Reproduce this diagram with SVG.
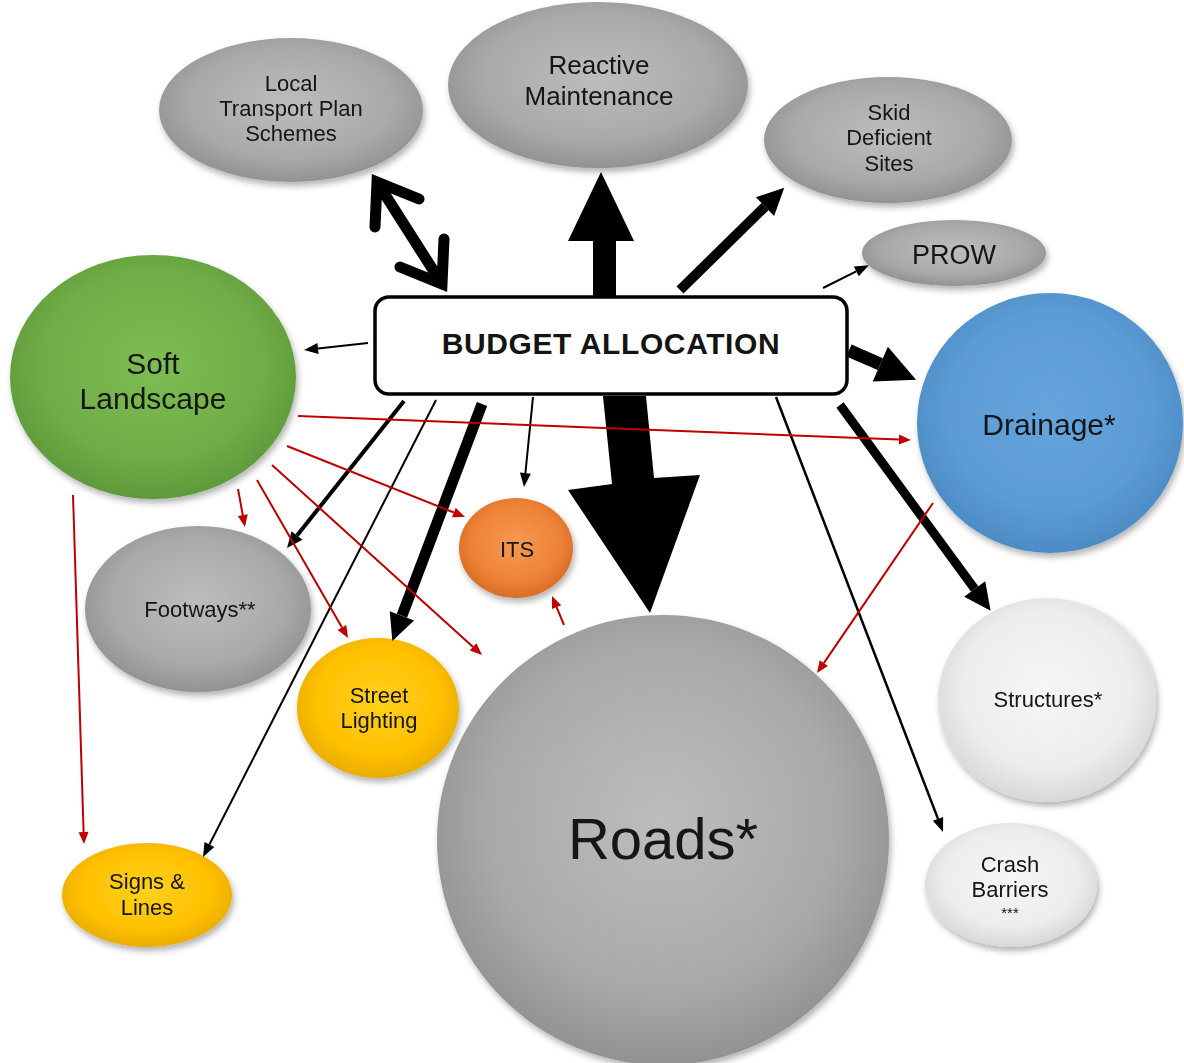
<svg xmlns="http://www.w3.org/2000/svg" width="1184" height="1063" viewBox="0 0 1184 1063">
<style>
.t{font-family:"Liberation Sans",Arial,sans-serif;fill:#141414;text-anchor:middle}
.node{filter:url(#sh)}
.k{fill:none;stroke:#000}
.r{fill:none;stroke:#c00000;stroke-width:2;marker-end:url(#ar)}
</style>
<defs>
<filter id="sh" x="-10%" y="-10%" width="125%" height="130%">
<feDropShadow dx="2" dy="4" stdDeviation="3" flood-color="#000" flood-opacity="0.3"/>
</filter>
<radialGradient id="gGray" cx="50%" cy="45%" r="55%"><stop offset="0" stop-color="#bdbdbd"/><stop offset="0.7" stop-color="#a9a9a9"/><stop offset="1" stop-color="#929292"/></radialGradient>
<radialGradient id="gGreen" cx="50%" cy="45%" r="55%"><stop offset="0" stop-color="#7dbd53"/><stop offset="0.7" stop-color="#70ad47"/><stop offset="1" stop-color="#5e9a3b"/></radialGradient>
<radialGradient id="gBlue" cx="50%" cy="45%" r="55%"><stop offset="0" stop-color="#66a4dc"/><stop offset="0.7" stop-color="#5b9bd5"/><stop offset="1" stop-color="#4c8bc3"/></radialGradient>
<radialGradient id="gOrange" cx="50%" cy="45%" r="55%"><stop offset="0" stop-color="#f49a52"/><stop offset="0.7" stop-color="#ee8236"/><stop offset="1" stop-color="#d86d27"/></radialGradient>
<radialGradient id="gYellow" cx="50%" cy="45%" r="55%"><stop offset="0" stop-color="#ffd11c"/><stop offset="0.7" stop-color="#ffc000"/><stop offset="1" stop-color="#e9ad00"/></radialGradient>
<radialGradient id="gWhite" cx="50%" cy="45%" r="55%"><stop offset="0" stop-color="#f6f6f6"/><stop offset="0.7" stop-color="#ededed"/><stop offset="1" stop-color="#d8d8d8"/></radialGradient>
<marker id="ar" markerUnits="userSpaceOnUse" orient="auto" overflow="visible" refX="0" refY="0"><path d="M0,-5 L12,0 L0,5 z" fill="#c00000"/></marker>
<marker id="ab" markerUnits="userSpaceOnUse" orient="auto" overflow="visible" refX="0" refY="0"><path d="M0,-5.5 L14,0 L0,5.5 z" fill="#000"/></marker>
<marker id="am" markerUnits="userSpaceOnUse" orient="auto" overflow="visible" refX="0" refY="0"><path d="M0,-7 L16,0 L0,7 z" fill="#000"/></marker>
<marker id="at" markerUnits="userSpaceOnUse" orient="auto" overflow="visible" refX="0" refY="0"><path d="M0,-13 L27,0 L0,13 z" fill="#000"/></marker>
<marker id="ad" markerUnits="userSpaceOnUse" orient="auto" overflow="visible" refX="0" refY="0"><path d="M0,-19 L39,0 L0,19 z" fill="#000"/></marker>
</defs>
<rect width="1184" height="1063" fill="#fff"/>

<g id="ltp" class="node"><ellipse cx="291" cy="110" rx="132" ry="72" fill="url(#gGray)"/>
<text class="t" font-size="22" x="291" y="91">Local</text><text class="t" font-size="22" x="291" y="116">Transport Plan</text><text class="t" font-size="22" x="291" y="141">Schemes</text></g>

<g id="reactive" class="node"><ellipse cx="598" cy="85" rx="150" ry="83" fill="url(#gGray)"/>
<text class="t" font-size="26" x="599" y="74">Reactive</text><text class="t" font-size="26" x="599" y="105">Maintenance</text></g>

<g id="skid" class="node"><ellipse cx="888" cy="140" rx="124" ry="63" fill="url(#gGray)"/>
<text class="t" font-size="22" x="889" y="120">Skid</text><text class="t" font-size="22" x="889" y="145">Deficient</text><text class="t" font-size="22" x="889" y="171">Sites</text></g>

<g id="prow" class="node"><ellipse cx="954" cy="253" rx="92" ry="33" fill="url(#gGray)"/>
<text class="t" font-size="27" x="954" y="264">PROW</text></g>

<g id="soft" class="node"><ellipse cx="153" cy="377" rx="143" ry="122" fill="url(#gGreen)"/>
<text class="t" font-size="30" x="153" y="374">Soft</text><text class="t" font-size="30" x="153" y="409">Landscape</text></g>

<g id="drainage" class="node"><ellipse cx="1050" cy="423" rx="133" ry="130" fill="url(#gBlue)"/>
<text class="t" font-size="30" x="1049" y="435">Drainage*</text></g>

<g id="its" class="node"><ellipse cx="516" cy="548" rx="57" ry="50" fill="url(#gOrange)"/>
<text class="t" font-size="22" x="517" y="557">ITS</text></g>

<g id="footways" class="node"><ellipse cx="198" cy="609" rx="113" ry="83" fill="url(#gGray)"/>
<text class="t" font-size="22" x="200" y="617">Footways**</text></g>

<g id="streetlighting" class="node"><ellipse cx="378" cy="708" rx="81" ry="70" fill="url(#gYellow)"/>
<text class="t" font-size="22" x="379" y="703">Street</text><text class="t" font-size="22" x="379" y="728">Lighting</text></g>

<g id="signs" class="node"><ellipse cx="147" cy="895" rx="85" ry="52" fill="url(#gYellow)"/>
<text class="t" font-size="22" x="147" y="889">Signs &amp;</text><text class="t" font-size="22" x="147" y="915">Lines</text></g>

<g id="roads" class="node"><ellipse cx="663" cy="840" rx="226" ry="225" fill="url(#gGray)"/>
<text class="t" font-size="58" x="663" y="859">Roads*</text></g>

<g id="structures" class="node"><ellipse cx="1047" cy="700" rx="109" ry="102" fill="url(#gWhite)"/>
<text class="t" font-size="22" x="1048" y="707">Structures*</text></g>

<g id="crash" class="node"><ellipse cx="1011" cy="885" rx="86" ry="62" fill="url(#gWhite)"/>
<text class="t" font-size="22" x="1010" y="872">Crash</text><text class="t" font-size="22" x="1010" y="897">Barriers</text><text class="t" font-size="15" x="1010" y="918">***</text></g>

<g id="connectors">
<path class="k" stroke-width="11" stroke-linejoin="miter" stroke-linecap="round" d="M444,239 L442,284 L400,267 M375,227 L377,182 L419,199 M377,182 L442,284"/>
<polygon points="593,297 593,241 568,241 601,172 634,241 616,241 616,297" fill="#000"/>
<polygon points="603,396 646,396 654,478 700,475 650,613 568,490 612,484" fill="#000"/>
<line class="k" stroke-width="10" x1="680" y1="290" x2="765" y2="206.6" marker-end="url(#at)"/>
<line class="k" stroke-width="2" x1="823" y1="288" x2="856.3" y2="271.4" marker-end="url(#ab)"/>
<line class="k" stroke-width="2" x1="368" y1="343" x2="318" y2="348.5" marker-end="url(#ab)"/>
<line class="k" stroke-width="13" x1="849" y1="350.5" x2="880.3" y2="364.1" marker-end="url(#ad)"/>
<line class="k" stroke-width="9" x1="840" y1="405" x2="974.7" y2="589" marker-end="url(#at)"/>
<line class="k" stroke-width="2.5" x1="776" y1="397" x2="938" y2="818.9" marker-end="url(#ab)"/>
<line class="k" stroke-width="2" x1="533" y1="397" x2="525.4" y2="473.1" marker-end="url(#ab)"/>
<line class="k" stroke-width="11" x1="482" y1="404" x2="401.9" y2="615.8" marker-end="url(#at)"/>
<line class="k" stroke-width="4" x1="404" y1="401" x2="297" y2="535.5" marker-end="url(#am)"/>
<line class="k" stroke-width="2" x1="436" y1="400" x2="209.4" y2="844.5" marker-end="url(#ab)"/>
<line class="r" x1="298" y1="416" x2="899" y2="439.5"/>
<line class="r" x1="287" y1="446" x2="453.9" y2="512.5"/>
<line class="r" x1="272" y1="465" x2="473.1" y2="646.9"/>
<line class="r" x1="257" y1="480" x2="342" y2="627.6"/>
<line class="r" x1="238" y1="489" x2="242.8" y2="515.2"/>
<line class="r" x1="73" y1="495" x2="83.6" y2="832"/>
<line class="r" x1="564" y1="625" x2="556.6" y2="607.1"/>
<line class="r" x1="933" y1="503" x2="823.8" y2="663.1"/>
</g>

<g id="budget">
<rect x="375" y="297" width="472" height="97" rx="14" ry="14" fill="#fff" stroke="#000" stroke-width="3.5"/>
<text class="t" font-size="30" font-weight="bold" letter-spacing="0.6" x="611" y="354" fill="#000">BUDGET ALLOCATION</text>
</g>
</svg>
